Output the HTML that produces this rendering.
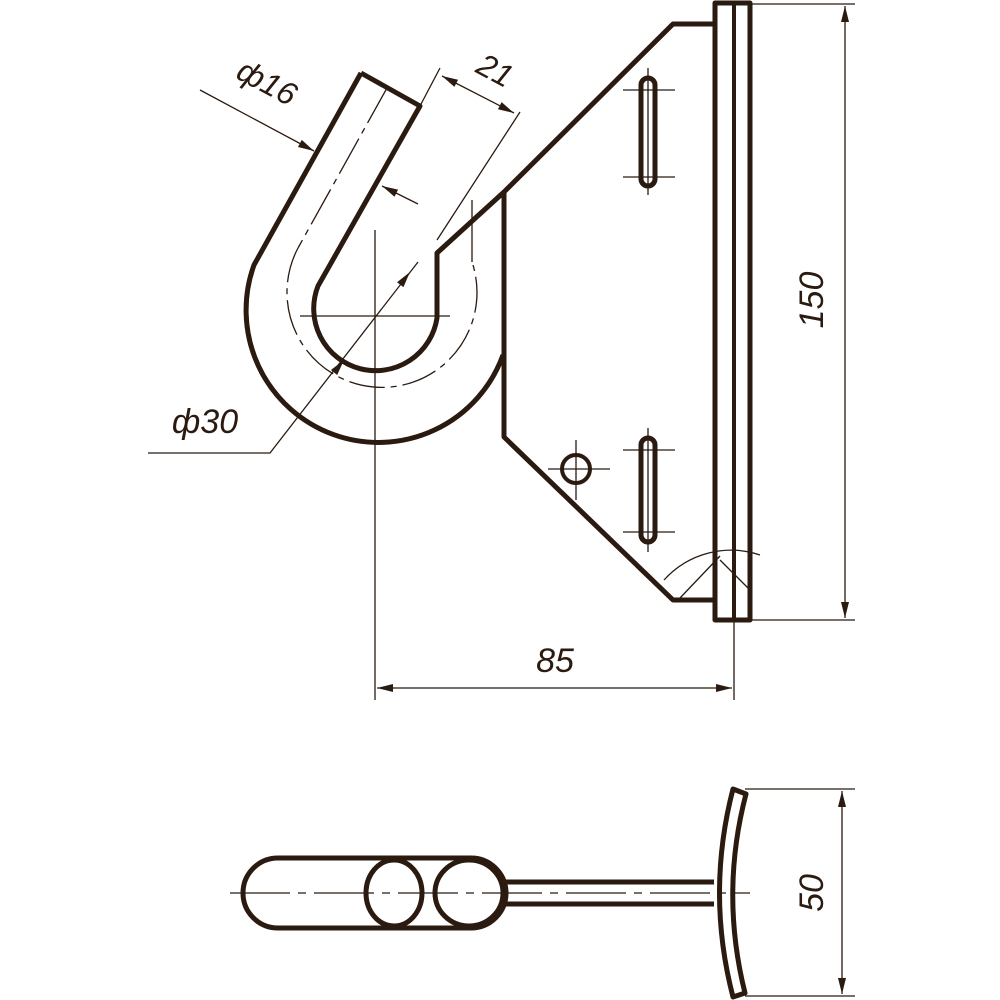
<!DOCTYPE html>
<html><head><meta charset="utf-8"><style>
html,body{margin:0;padding:0;background:#fff}
svg{display:block}
text{font-family:"Liberation Sans",sans-serif;font-style:italic;fill:#2a1a10}
</style></head><body>
<svg id="s" width="1000" height="1000" viewBox="0 0 1000 1000" xmlns="http://www.w3.org/2000/svg">
<g fill="none" stroke="#2a1a10" stroke-linejoin="round">
<g stroke-width="5">
<path d="M361,73 L254,265 A130,130 0 1 0 503,355"/>
<path d="M361,73 L420,106 L318,286 A62,62 0 1 0 437,318 L437,253 L504,192 L673,24 L714,24"/>
<path d="M504,192 L504,437 L673,600 L714,600"/>
<rect x="715" y="3" width="35" height="617"/>
<line x1="734" y1="3" x2="734" y2="620" stroke-width="4"/>
<rect x="641" y="78" width="14" height="108" rx="7"/>
<rect x="641" y="438" width="14" height="104" rx="7"/>
<circle cx="576" cy="469" r="14" stroke-width="4"/>
<path d="M278,858 L471,858 A35,35 0 0 1 471,928 L278,928 A35,35 0 0 1 278,858 Z"/>
<ellipse cx="394" cy="893" rx="28" ry="33"/>
<ellipse cx="469" cy="893" rx="34" ry="33"/>
<path d="M506,882 L714,882 M506,904 L714,904"/>
<path d="M733,789 L746,794 Q720,893 745,993 L733,997 Q706,893 733,789 Z"/>
</g>
<g stroke-width="1.3">
<path d="M375,230 L375,700 M300,316 L450,316"/>
<path d="M387,88 L298,248" stroke-dasharray="40,6,6,6"/>
<path d="M298,248 A95,95 0 1 0 472,262" stroke-dasharray="36,6,6,6"/>
<path d="M472,262 L472,200"/>
<path d="M648,68 L648,195 M648,428 L648,552 M623,90 L675,90 M623,177 L675,177 M623,450 L675,450 M623,532 L675,532"/>
<path d="M576,440 L576,500 M548,469 L610,469"/>
<path d="M664,580 A90,90 0 0 1 760,555 M680,598 L720,556 M720,560 L748,588"/>
<path d="M734,620 L734,700 M750,620 L855,620 M750,4 L855,4"/>
<path d="M845,6 L845,618"/>
<path d="M377,688 L732,688"/>
<path d="M148,453 L270,453 L418,262"/>
<path d="M200,90 L314,151"/>
<path d="M418,204 L382,186"/>
<path d="M420,106 L440,68 M437,240 L520,112"/>
<path d="M442,76 L514,113"/>
<path d="M230,893 L750,893" stroke-dasharray="60,8,8,8"/>
<path d="M745,789 L855,789 M745,996 L855,996"/>
<path d="M842,791 L842,994"/>
</g>
</g>
<g id="arr" fill="#2a1a10"></g>
<text x="555" y="672" font-size="34" text-anchor="middle">85</text>
<text x="0" y="0" font-size="34" text-anchor="middle" transform="translate(823,300) rotate(-90)">150</text>
<text x="0" y="0" font-size="34" text-anchor="middle" transform="translate(823,893) rotate(-90)">50</text>
<text x="205" y="433" font-size="34" text-anchor="middle">ф30</text>
<text x="0" y="0" font-size="32" text-anchor="middle" transform="translate(262,92) rotate(28)">ф16</text>
<text x="0" y="0" font-size="32" text-anchor="middle" transform="translate(490,80) rotate(28)">21</text>
</svg>
<script>
var g=document.getElementById('arr');
function ar(tx,ty,fx,fy){var dx=tx-fx,dy=ty-fy,l=Math.hypot(dx,dy);dx/=l;dy/=l;var L=16,W=4;
var bx=tx-dx*L,by=ty-dy*L;
var p=document.createElementNS('http://www.w3.org/2000/svg','polygon');
p.setAttribute('points',tx+','+ty+' '+(bx-dy*W)+','+(by+dx*W)+' '+(bx+dy*W)+','+(by-dx*W));g.appendChild(p);}
ar(845,6,845,100);ar(845,618,845,500);
ar(377,688,500,688);ar(732,688,600,688);
ar(842,791,842,900);ar(842,994,842,900);
ar(442,76,514,113);ar(514,113,442,76);
ar(314,151,200,90);ar(382,186,418,204);
ar(344,360,270,453);ar(410,272,330,376);
</script>
</body></html>
